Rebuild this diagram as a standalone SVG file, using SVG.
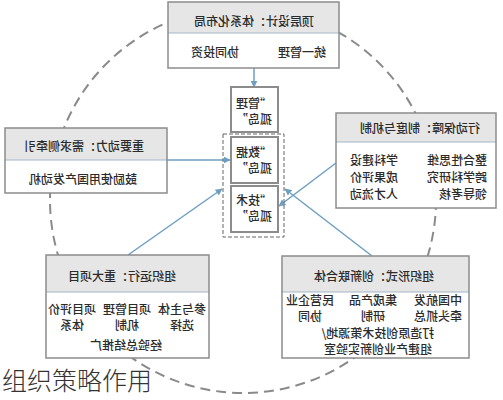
<svg xmlns="http://www.w3.org/2000/svg" width="503" height="400" viewBox="0 0 503 400">
<defs>
<style>
.box{fill:#fff;stroke:none}
.frame{fill:none;stroke:#8c8c8c;stroke-width:1.5}
.hdr{fill:#e6e6e6}
.div{stroke:#a3b3c6;stroke-width:1.2}
.t{font-family:"Noto Sans CJK SC","Noto Sans CJK TC",sans-serif;font-size:12px;font-weight:500;fill:#2b2b2b;text-anchor:middle}
.s{text-anchor:start}
.iso{fill:#fff;stroke:#8c8c8c;stroke-width:2}
.con{stroke:#6e9fc2;stroke-width:1.5;fill:none;marker-end:url(#ah)}
.ring{fill:none;stroke:#8a8a8a;stroke-width:2;stroke-dasharray:10 6}
.cap{font-family:"Noto Sans CJK SC",sans-serif;font-size:25px;fill:#333;font-weight:300}
</style>
<marker id="ah" viewBox="0 0 10 10" refX="9" refY="5" markerWidth="7" markerHeight="7" orient="auto" markerUnits="userSpaceOnUse">
<path d="M0,0 L10,5 L0,10 z" fill="#6e9fc2"/>
</marker>
</defs>
<rect width="503" height="400" fill="#fff"/>
<circle class="ring" cx="243" cy="200" r="193"/>

<g id="connectors">
<line class="con" x1="254" y1="68" x2="254" y2="87"/>
<line class="con" x1="167" y1="160" x2="230" y2="160"/>
<line class="con" x1="128" y1="255" x2="222" y2="189"/>
<line class="con" x1="336" y1="163" x2="279" y2="206"/>
<line class="con" x1="372" y1="256" x2="285" y2="189"/>
</g>

<g id="top">
<rect class="box" x="168" y="2" width="171" height="66"/>
<rect class="hdr" x="168" y="2" width="171" height="31"/>
<line class="div" x1="168" y1="33" x2="339" y2="33"/>
<rect class="frame" x="168" y="2" width="171" height="66"/>
<text class="t" transform="translate(254,25.5) scale(-1,1)">顶层设计：体系化布局</text>
<text class="t" transform="translate(215,56.5) scale(-1,1)">协同投资</text>
<text class="t" transform="translate(302,56.5) scale(-1,1)">统一管理</text>
</g>

<g id="left">
<rect class="box" x="5" y="128" width="162" height="65"/>
<rect class="hdr" x="5" y="128" width="162" height="32"/>
<line class="div" x1="5" y1="160" x2="167" y2="160"/>
<rect class="frame" x="5" y="128" width="162" height="65"/>
<text class="t" transform="translate(84,150.5) scale(-1,1)">重要动力：需求侧牵引</text>
<text class="t" transform="translate(83,183.5) scale(-1,1)">鼓励使用国产发动机</text>
</g>

<g id="right">
<rect class="box" x="336" y="113" width="160" height="95"/>
<rect class="hdr" x="336" y="113" width="160" height="29"/>
<line class="div" x1="336" y1="142" x2="496" y2="142"/>
<rect class="frame" x="336" y="113" width="160" height="95"/>
<text class="t" transform="translate(420,132.5) scale(-1,1)">行动保障：制度与机制</text>
<text class="t s" transform="translate(487,164.5) scale(-1,1)">整合性思维</text>
<text class="t s" transform="translate(487,181.5) scale(-1,1)">跨学科研究</text>
<text class="t s" transform="translate(487,198.5) scale(-1,1)">领导考核</text>
<text class="t s" transform="translate(398,164.5) scale(-1,1)">学科建设</text>
<text class="t s" transform="translate(398,181.5) scale(-1,1)">成果评价</text>
<text class="t s" transform="translate(398,198.5) scale(-1,1)">人才流动</text>
</g>

<g id="silo-group">
<rect x="223" y="134" width="61" height="103" fill="none" stroke="#666" stroke-width="1" stroke-dasharray="4 2"/>
</g>
<g id="silo-mgmt">
<rect class="iso" x="231" y="87" width="47" height="45"/>
<text class="t" transform="translate(254,107.5) scale(-1,1)">“管理</text>
<text class="t" transform="translate(254,123.5) scale(-1,1)">孤岛”</text>
</g>
<g id="silo-data">
<rect class="iso" x="231" y="137" width="47" height="46"/>
<text class="t" transform="translate(254,156.5) scale(-1,1)">“数据</text>
<text class="t" transform="translate(254,172.5) scale(-1,1)">孤岛”</text>
</g>
<g id="silo-tech">
<rect class="iso" x="231" y="186" width="47" height="46"/>
<text class="t" transform="translate(254,205) scale(-1,1)">“技术</text>
<text class="t" transform="translate(254,221) scale(-1,1)">孤岛”</text>
</g>

<g id="bottom-left">
<rect class="box" x="46" y="255" width="163" height="103"/>
<rect class="hdr" x="46" y="255" width="163" height="37"/>
<line class="div" x1="46" y1="292" x2="209" y2="292"/>
<rect class="frame" x="46" y="255" width="163" height="103"/>
<text class="t" transform="translate(122,280.5) scale(-1,1)">组织运行：重大项目</text>
<text class="t" transform="translate(182,314) scale(-1,1)">参与主体</text>
<text class="t" transform="translate(182,330) scale(-1,1)">选择</text>
<text class="t" transform="translate(127,314) scale(-1,1)">项目管理</text>
<text class="t" transform="translate(127,330) scale(-1,1)">机制</text>
<text class="t" transform="translate(72,314) scale(-1,1)">项目评价</text>
<text class="t" transform="translate(72,330) scale(-1,1)">体系</text>
<text class="t" transform="translate(126,350) scale(-1,1)">经验总结推广</text>
</g>

<g id="bottom-right">
<rect class="box" x="282" y="256" width="187" height="102"/>
<rect class="hdr" x="282" y="256" width="187" height="36"/>
<line class="div" x1="282" y1="292" x2="469" y2="292"/>
<rect class="frame" x="282" y="256" width="187" height="102"/>
<text class="t" transform="translate(374,280.5) scale(-1,1)">组织形式：创新联合体</text>
<text class="t" transform="translate(438,305) scale(-1,1)">中国航发</text>
<text class="t" transform="translate(438,321) scale(-1,1)">牵头抓总</text>
<text class="t" transform="translate(373,305) scale(-1,1)">集成产品</text>
<text class="t" transform="translate(373,321) scale(-1,1)">研制</text>
<text class="t" transform="translate(310,305) scale(-1,1)">民营企业</text>
<text class="t" transform="translate(310,321) scale(-1,1)">协同</text>
<text class="t" transform="translate(378,337.5) scale(-1,1)">打造原创技术策源地/</text>
<text class="t" transform="translate(378,353.5) scale(-1,1)">组建产业创新实验室</text>
</g>

<text class="cap" x="2" y="390">组织策略作用</text>
</svg>
